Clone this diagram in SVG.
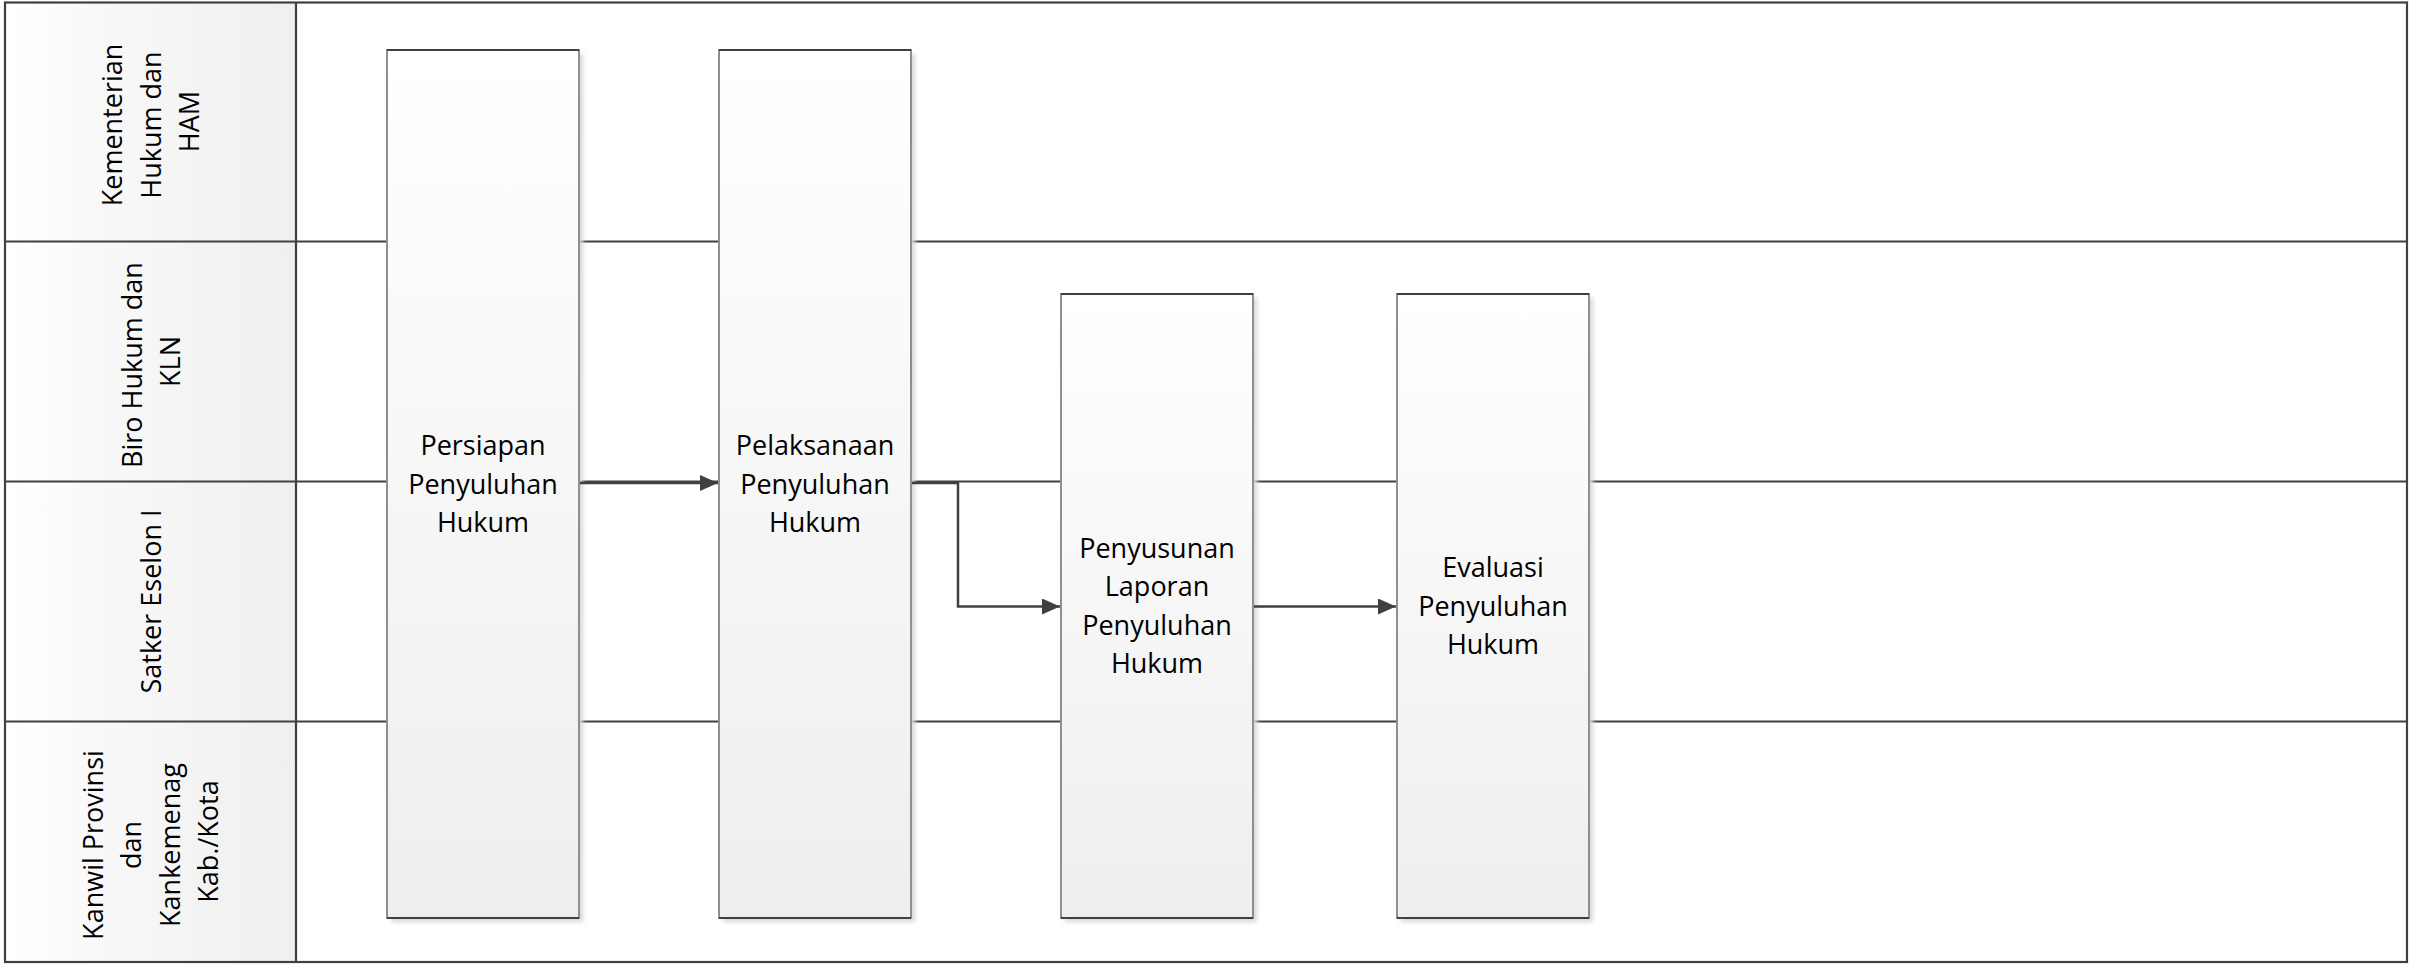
<svg xmlns="http://www.w3.org/2000/svg" width="2409" height="964" viewBox="0 0 2409 964">
  <defs>
    <linearGradient id="hdrGrad" x1="0" y1="0" x2="1" y2="0">
      <stop offset="0" stop-color="#ffffff"/>
      <stop offset="0.35" stop-color="#f8f8f8"/>
      <stop offset="1" stop-color="#efefef"/>
    </linearGradient>
    <linearGradient id="boxGrad" x1="0" y1="0" x2="0" y2="1">
      <stop offset="0" stop-color="#ffffff"/>
      <stop offset="1" stop-color="#eeeeee"/>
    </linearGradient>
    <filter id="blur" x="-10%" y="-10%" width="120%" height="120%">
      <feGaussianBlur stdDeviation="2"/>
    </filter>
    <marker id="arrow" markerWidth="20" markerHeight="18" refX="18" refY="8" orient="auto" markerUnits="userSpaceOnUse">
      <path d="M0,0 L18,8 L0,16 Z" fill="#404040"/>
    </marker>
  </defs>
  <style>
    .lane { fill: none; stroke: #404040; stroke-width: 2.2; }
    .hdr { fill: url(#hdrGrad); stroke: none; }
    .shadow { fill: #d8d8d8; filter: url(#blur); }
    .box { fill: url(#boxGrad); stroke: #8f8f8f; stroke-width: 2; }
    .edge { stroke: #404040; stroke-width: 2; }
    .lbl { font-family: "Open Sans", "Liberation Sans", sans-serif; font-size: 27px; fill: #000; text-anchor: middle; }
    .conn { fill: none; stroke: #404040; stroke-width: 2.5; marker-end: url(#arrow); }
  </style>
  <rect width="2409" height="964" fill="#ffffff"/>

  <g id="pool">
    <rect class="hdr" x="5" y="2" width="291" height="960"/>
    <rect class="lane" x="5" y="2.5" width="2402" height="959.5"/>
    <line class="lane" x1="296" y1="2" x2="296" y2="962"/>
    <line class="lane" x1="5" y1="241.5" x2="2407" y2="241.5"/>
    <line class="lane" x1="5" y1="481.5" x2="2407" y2="481.5"/>
    <line class="lane" x1="5" y1="721.5" x2="2407" y2="721.5"/>
  </g>

  <g id="lane1">
    <text class="lbl" transform="translate(151.5,121.5) rotate(-90)">
      <tspan x="0" y="-29.5">Kementerian</tspan>
      <tspan x="0" y="9">Hukum dan</tspan>
      <tspan x="0" y="47.5">HAM</tspan>
    </text>
  </g>
  <g id="lane2">
    <text class="lbl" transform="translate(151.5,361.5) rotate(-90)">
      <tspan x="0" y="-10">Biro Hukum dan</tspan>
      <tspan x="0" y="28.5">KLN</tspan>
    </text>
  </g>
  <g id="lane3">
    <text class="lbl" transform="translate(151.5,601.5) rotate(-90)">
      <tspan x="0" y="9">Satker Eselon I</tspan>
    </text>
  </g>
  <g id="lane4">
    <text class="lbl" transform="translate(151.5,841.5) rotate(-90)">
      <tspan x="0" y="-48.75">Kanwil Provinsi</tspan>
      <tspan x="0" y="-10.25">dan</tspan>
      <tspan x="0" y="28.25">Kankemenag</tspan>
      <tspan x="0" y="66.75">Kab./Kota</tspan>
    </text>
  </g>

  <g id="node1">
    <rect class="shadow" x="391" y="54" width="192" height="868"/>
    <rect class="box" x="387" y="50" width="192" height="868"/>
    <line class="edge" x1="387" y1="50" x2="579" y2="50"/>
    <line class="edge" x1="387" y1="918" x2="579" y2="918"/>
    <text class="lbl"><tspan x="483" y="455">Persiapan</tspan><tspan x="483" y="493.5">Penyuluhan</tspan><tspan x="483" y="532">Hukum</tspan></text>
  </g>

  <g id="node2">
    <rect class="shadow" x="723" y="54" width="192" height="868"/>
    <rect class="box" x="719" y="50" width="192" height="868"/>
    <line class="edge" x1="719" y1="50" x2="911" y2="50"/>
    <line class="edge" x1="719" y1="918" x2="911" y2="918"/>
    <text class="lbl"><tspan x="815" y="455">Pelaksanaan</tspan><tspan x="815" y="493.5">Penyuluhan</tspan><tspan x="815" y="532">Hukum</tspan></text>
  </g>

  <g id="node3">
    <rect class="shadow" x="1065" y="298" width="192" height="624"/>
    <rect class="box" x="1061" y="294" width="192" height="624"/>
    <line class="edge" x1="1061" y1="294" x2="1253" y2="294"/>
    <line class="edge" x1="1061" y1="918" x2="1253" y2="918"/>
    <text class="lbl"><tspan x="1157" y="557.5">Penyusunan</tspan><tspan x="1157" y="596">Laporan</tspan><tspan x="1157" y="634.5">Penyuluhan</tspan><tspan x="1157" y="673">Hukum</tspan></text>
  </g>

  <g id="node4">
    <rect class="shadow" x="1401" y="298" width="192" height="624"/>
    <rect class="box" x="1397" y="294" width="192" height="624"/>
    <line class="edge" x1="1397" y1="294" x2="1589" y2="294"/>
    <line class="edge" x1="1397" y1="918" x2="1589" y2="918"/>
    <text class="lbl"><tspan x="1493" y="577">Evaluasi</tspan><tspan x="1493" y="615.5">Penyuluhan</tspan><tspan x="1493" y="654">Hukum</tspan></text>
  </g>

  <g id="connectors">
    <path class="conn" d="M580,483 L718,483"/>
    <path class="conn" d="M912,483 L958,483 L958,606.5 L1060,606.5"/>
    <path class="conn" d="M1254,606.5 L1396,606.5"/>
  </g>
</svg>
